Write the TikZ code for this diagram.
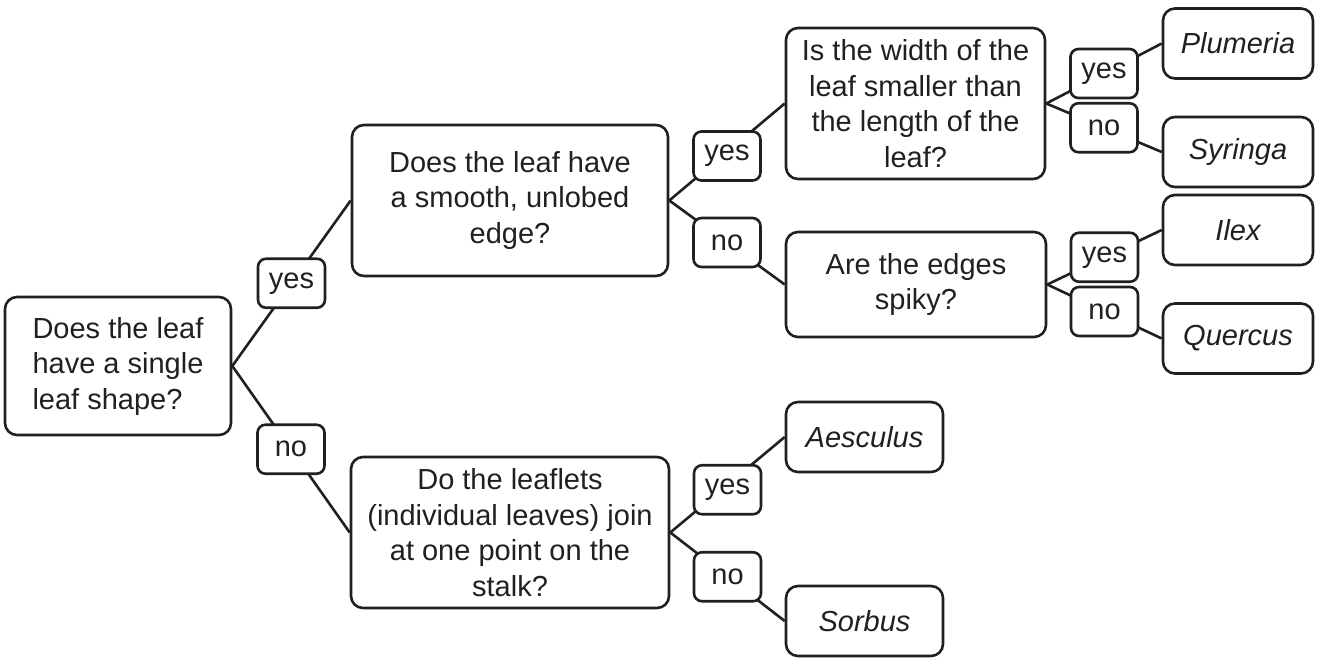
\documentclass[tikz,border=0pt]{standalone}
\usepackage{fontspec}
\setmainfont{Liberation Sans}
\definecolor{ink}{HTML}{231F20}
\tikzset{
  every node/.style={font=\fontsize{29}{35.5}\selectfont, text=ink},
  qbox/.style={draw=ink, line width=2.6pt, rounded corners=12pt, align=center, inner sep=0pt},
  leafbox/.style={qbox, font=\fontsize{29}{35.5}\selectfont\itshape, minimum width=150pt, minimum height=70pt},
  lab/.style={draw=ink, line width=2.6pt, rounded corners=8pt, fill=white, minimum width=67pt, minimum height=49pt, inner sep=0pt},
  conn/.style={draw=ink, line width=2.6pt},
}
\begin{document}
\begin{tikzpicture}[x=1pt,y=-1pt]
\useasboundingbox (0,0) rectangle (1317,658);
% question boxes
\node[qbox, minimum width=226pt, minimum height=138pt, align=left] (root) at (118,366) {Does the leaf\\have a single\\leaf shape?};
\node[qbox, minimum width=316pt, minimum height=151pt] (q2) at (510,200.5) {Does the leaf have\\a smooth, unlobed\\edge?};
\node[qbox, minimum width=318pt, minimum height=151pt] (q3) at (510,532.5) {Do the leaflets\\(individual leaves) join\\at one point on the\\stalk?};
\node[qbox, minimum width=259pt, minimum height=151pt] (q4) at (915.5,103.5) {Is the width of the\\leaf smaller than\\the length of the\\leaf?};
\node[qbox, minimum width=260pt, minimum height=105pt] (q5) at (916,284.5) {Are the edges\\spiky?};
% leaf boxes
\node[leafbox] (plum) at (1238,43.5) {Plumeria};
\node[leafbox] (syr) at (1238,152) {Syringa};
\node[leafbox] (ilex) at (1238,230) {Ilex};
\node[leafbox] (quer) at (1238,338.5) {Quercus};
\node[leafbox, minimum width=157pt] (aesc) at (864.5,437) {Aesculus};
\node[leafbox, minimum width=157pt] (sorb) at (864.5,621) {Sorbus};
% connectors with labels
\path[conn] (root.east) -- node[lab] (l1) {yes} (q2.west);
\path[conn] (root.east) -- node[lab] (l2) {no} (q3.west);
\path[conn] (q2.east) -- node[lab, yshift=-4pt] (l3) {yes} (q4.west);
\path[conn] (q2.east) -- node[lab] (l4) {no} (q5.west);
\path[conn] (q3.east) -- node[lab, yshift=-5pt] (l5) {yes} (aesc.west);
\path[conn] (q3.east) -- node[lab] (l6) {no} (sorb.west);
\path[conn] (q4.east) -- node[lab] (l7) {yes} (plum.west);
\path[conn] (q4.east) -- node[lab] (l8) {no} (syr.west);
\path[conn] (q5.east) -- node[lab] (l9) {yes} (ilex.west);
\path[conn] (q5.east) -- node[lab] (l10) {no} (quer.west);
\end{tikzpicture}
\end{document}
